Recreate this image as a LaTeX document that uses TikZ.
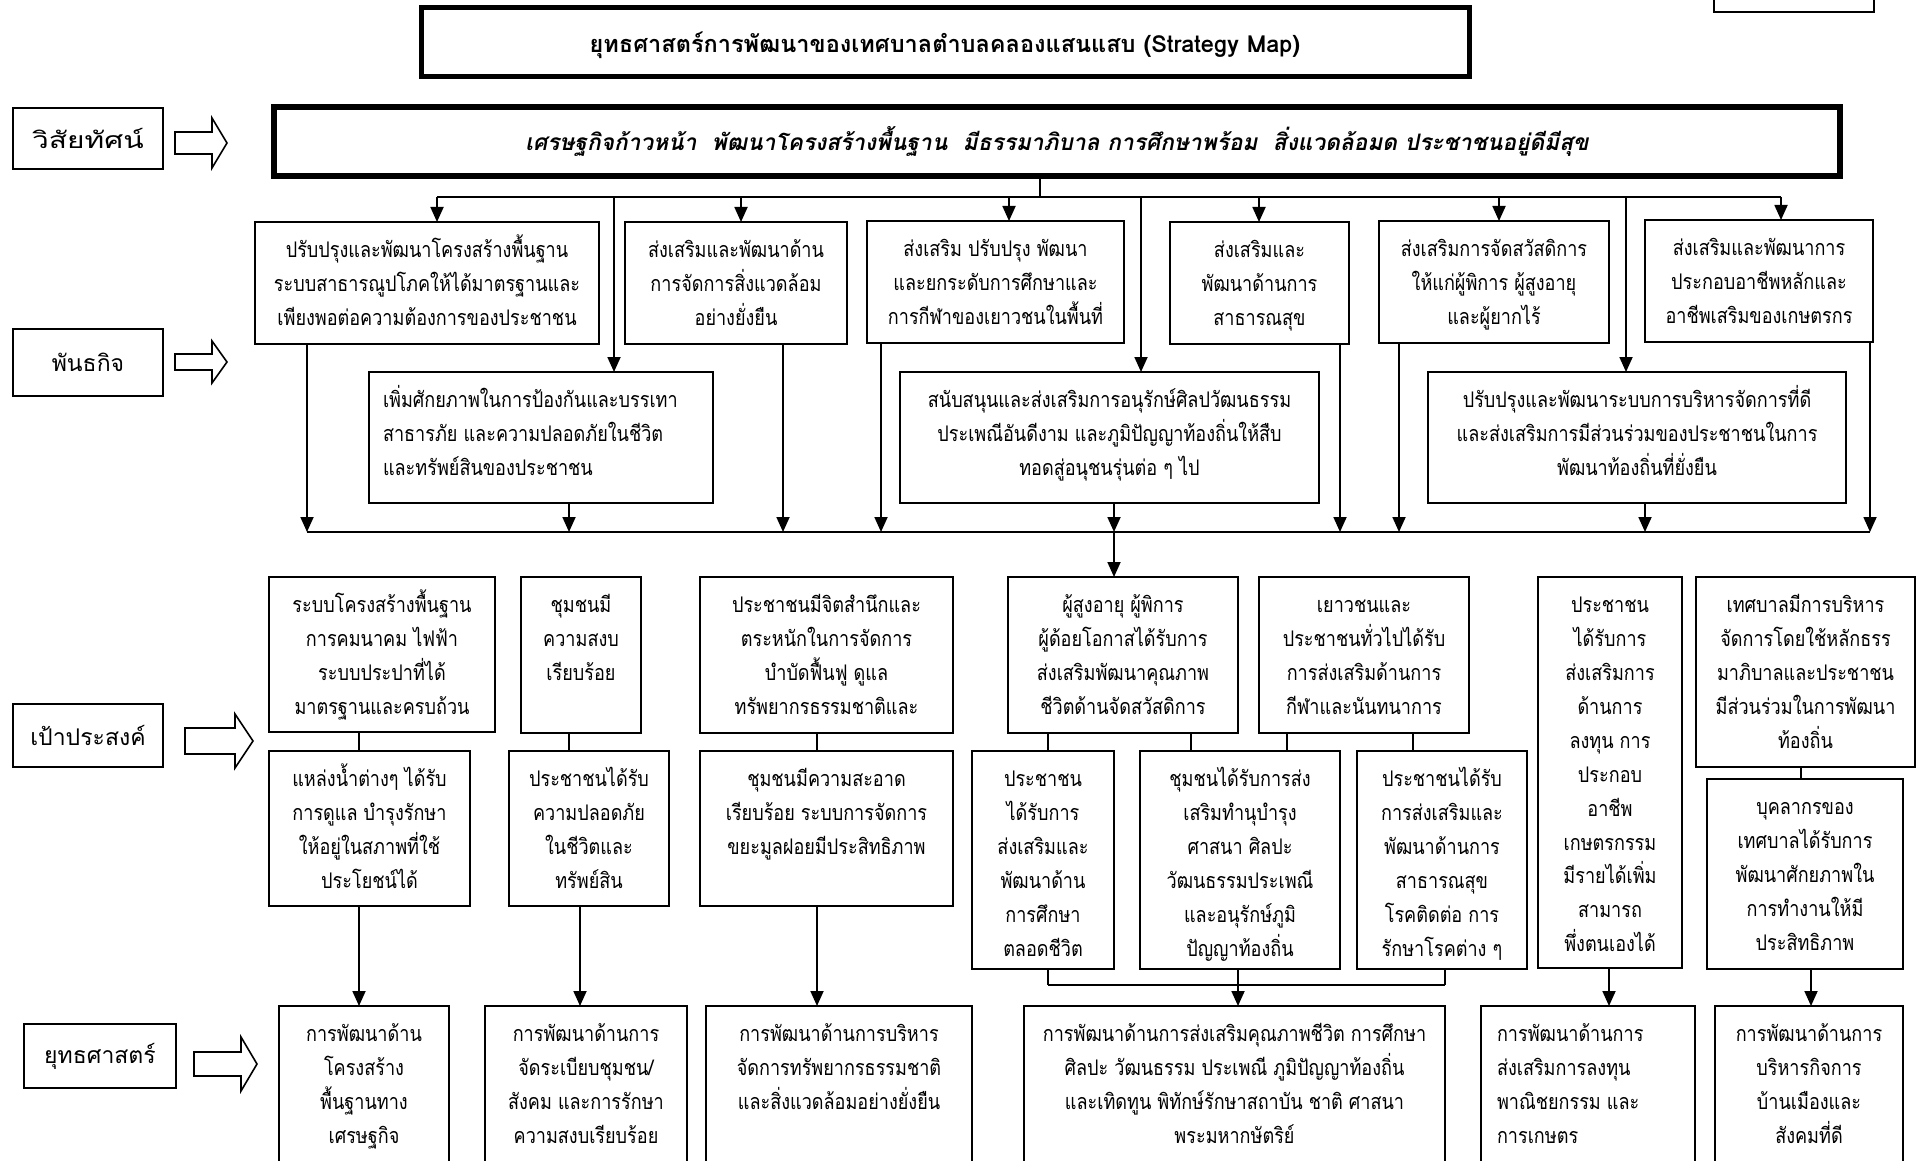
\documentclass[tikz,border=0pt]{standalone}
\usepackage{fontspec}
\usetikzlibrary{arrows.meta}
\newfontfamily\thf[Script=Thai,FakeStretch=0.84]{Loma}
\newfontfamily\thl[Script=Thai]{Loma}
\newfontfamily\thvis[Script=Thai,FakeSlant=0.2]{Loma}
\tikzset{
  boxst/.style={draw, line width=2pt, inner sep=0pt, outer sep=0pt},
  conn/.style={line width=1.8pt},
  arr/.style={line width=1.8pt, -{Triangle[length=15pt,width=13pt]}},
  harrow/.style={draw, line width=1.6pt, fill=white, line join=miter},
  lab/.style={boxst, anchor=north west, font=\thl\fontsize{23pt}{28pt}\selectfont},
}
\newcommand\tbox[7][\centering]{%
  \pgfmathsetmacro\bw{#5-#3}\pgfmathsetmacro\bh{#6-#4}%
  \node[boxst,anchor=north west] (#2) at (#3,#4)
   {\parbox[t][\bh pt][t]{\bw pt}{#1\thf\fontsize{21.5pt}{33.9pt}\selectfont\vspace*{12pt}\strut#7}};}
\newcommand\harr[6]{%
  \draw[harrow] (#1,{#4-#5}) -- (#2,{#4-#5}) -- (#2,{#4-#6}) -- (#3,#4) -- (#2,{#4+#6}) -- (#2,{#4+#5}) -- (#1,{#4+#5}) -- cycle;}
\begin{document}
\begin{tikzpicture}[x=1pt,y=-1pt]
\useasboundingbox (0,0) rectangle (1927,1161);
% title
\node[draw, line width=5pt, inner sep=0pt, outer sep=0pt, minimum width=1048pt, minimum height=69pt, anchor=north west,
  text height=21pt, text depth=0pt,
  font=\thl\bfseries\fontsize{23.5pt}{26pt}\selectfont] (title) at (421,8) {ยุทธศาสตร์การพัฒนาของเทศบาลตำบลคลองแสนแสบ (Strategy Map)};
\node[boxst, minimum width=160pt, minimum height=40pt, anchor=south west] (corner) at (1714,12) {};
% vision
\node[draw, line width=6pt, inner sep=0pt, outer sep=0pt, minimum width=1566pt, minimum height=69pt, anchor=north west,
  text height=19pt, text depth=0pt,
  font=\thvis\bfseries\fontsize{22.7pt}{26pt}\selectfont] (vis) at (274,107)
  {เศรษฐกิจก้าวหน้า\ \ พัฒนาโครงสร้างพื้นฐาน\ \ มีธรรมาภิบาล การศึกษาพร้อม\ \ สิ่งแวดล้อมด ประชาชนอยู่ดีมีสุข};
% left labels
\node[lab, minimum width=150pt, minimum height=61pt] (lv) at (13,108) {\scalebox{1.3}[1]{วิสัยทัศน์}};
\node[lab, minimum width=150pt, minimum height=67pt] (lm) at (13,329) {พันธกิจ};
\node[lab, minimum width=150pt, minimum height=63pt] (lg) at (13,704) {เป้าประสงค์};
\node[lab, minimum width=152pt, minimum height=64pt] (ls) at (24,1024) {ยุทธศาสตร์};
\harr{175}{212}{227}{143}{11}{25}
\harr{175}{212}{227}{362}{8}{21}
\harr{185}{235}{253}{741}{13}{27}
\harr{194}{241}{257}{1064}{12}{27}
% missions
\tbox{m1}{255}{222}{599}{344}{ปรับปรุงและพัฒนาโครงสร้างพื้นฐาน\\ระบบสาธารณูปโภคให้ได้มาตรฐานและ\\เพียงพอต่อความต้องการของประชาชน}
\tbox{m2}{625}{222}{847}{344}{ส่งเสริมและพัฒนาด้าน\\การจัดการสิ่งแวดล้อม\\อย่างยั่งยืน}
\tbox{m3}{867}{221}{1124}{343}{ส่งเสริม ปรับปรุง พัฒนา\\และยกระดับการศึกษาและ\\การกีฬาของเยาวชนในพื้นที่}
\tbox{m4}{1170}{222}{1349}{344}{ส่งเสริมและ\\พัฒนาด้านการ\\สาธารณสุข}
\tbox{m5}{1379}{221}{1609}{343}{ส่งเสริมการจัดสวัสดิการ\\ให้แก่ผู้พิการ ผู้สูงอายุ\\และผู้ยากไร้}
\tbox{m6}{1645}{220}{1873}{342}{ส่งเสริมและพัฒนาการ\\ประกอบอาชีพหลักและ\\อาชีพเสริมของเกษตรกร}
\tbox[\raggedright\leftskip=14pt]{m7}{369}{372}{713}{503}{เพิ่มศักยภาพในการป้องกันและบรรเทา\\สาธารภัย และความปลอดภัยในชีวิต\\และทรัพย์สินของประชาชน}
\tbox{m8}{900}{372}{1319}{503}{สนับสนุนและส่งเสริมการอนุรักษ์ศิลปวัฒนธรรม\\ประเพณีอันดีงาม และภูมิปัญญาท้องถิ่นให้สืบ\\ทอดสู่อนุชนรุ่นต่อ ๆ ไป}
\tbox{m9}{1428}{372}{1846}{503}{ปรับปรุงและพัฒนาระบบการบริหารจัดการที่ดี\\และส่งเสริมการมีส่วนร่วมของประชาชนในการ\\พัฒนาท้องถิ่นที่ยั่งยืน}
% goals
\tbox{g1}{269}{577}{495}{732}{ระบบโครงสร้างพื้นฐาน\\การคมนาคม ไฟฟ้า\\ระบบประปาที่ได้\\มาตรฐานและครบถ้วน}
\tbox{g2}{521}{577}{641}{733}{ชุมชนมี\\ความสงบ\\เรียบร้อย}
\tbox{g3}{700}{577}{953}{733}{ประชาชนมีจิตสำนึกและ\\ตระหนักในการจัดการ\\บำบัดฟื้นฟู ดูแล\\ทรัพยากรธรรมชาติและ}
\tbox{g1b}{269}{751}{470}{906}{แหล่งน้ำต่างๆ ได้รับ\\การดูแล บำรุงรักษา\\ให้อยู่ในสภาพที่ใช้\\ประโยชน์ได้}
\tbox{g2b}{509}{751}{669}{906}{ประชาชนได้รับ\\ความปลอดภัย\\ในชีวิตและ\\ทรัพย์สิน}
\tbox{g3b}{700}{751}{953}{906}{ชุมชนมีความสะอาด\\เรียบร้อย ระบบการจัดการ\\ขยะมูลฝอยมีประสิทธิภาพ}
\tbox{g4}{1008}{577}{1238}{733}{ผู้สูงอายุ ผู้พิการ\\ผู้ด้อยโอกาสได้รับการ\\ส่งเสริมพัฒนาคุณภาพ\\ชีวิตด้านจัดสวัสดิการ}
\tbox{g5}{1259}{577}{1469}{733}{เยาวชนและ\\ประชาชนทั่วไปได้รับ\\การส่งเสริมด้านการ\\กีฬาและนันทนาการ}
\tbox{g6}{1538}{577}{1682}{968}{ประชาชน\\ได้รับการ\\ส่งเสริมการ\\ด้านการ\\ลงทุน การ\\ประกอบ\\อาชีพ\\เกษตรกรรม\\มีรายได้เพิ่ม\\สามารถ\\พึ่งตนเองได้}
\tbox{g7}{1696}{577}{1915}{767}{เทศบาลมีการบริหาร\\จัดการโดยใช้หลักธรร\\มาภิบาลและประชาชน\\มีส่วนร่วมในการพัฒนา\\ท้องถิ่น}
\tbox{g4b}{972}{751}{1114}{969}{ประชาชน\\ได้รับการ\\ส่งเสริมและ\\พัฒนาด้าน\\การศึกษา\\ตลอดชีวิต}
\tbox{g4c}{1140}{751}{1340}{969}{ชุมชนได้รับการส่ง\\เสริมทำนุบำรุง\\ศาสนา ศิลปะ\\วัฒนธรรมประเพณี\\และอนุรักษ์ภูมิ\\ปัญญาท้องถิ่น}
\tbox{g5b}{1357}{751}{1527}{969}{ประชาชนได้รับ\\การส่งเสริมและ\\พัฒนาด้านการ\\สาธารณสุข\\โรคติดต่อ การ\\รักษาโรคต่าง ๆ}
\tbox{g7b}{1707}{779}{1903}{969}{บุคลากรของ\\เทศบาลได้รับการ\\พัฒนาศักยภาพใน\\การทำงานให้มี\\ประสิทธิภาพ}
% strategies
\tbox{s1}{279}{1006}{449}{1180}{การพัฒนาด้าน\\โครงสร้าง\\พื้นฐานทาง\\เศรษฐกิจ}
\tbox{s2}{485}{1006}{687}{1180}{การพัฒนาด้านการ\\จัดระเบียบชุมชน/\\สังคม และการรักษา\\ความสงบเรียบร้อย}
\tbox{s3}{706}{1006}{972}{1180}{การพัฒนาด้านการบริหาร\\จัดการทรัพยากรธรรมชาติ\\และสิ่งแวดล้อมอย่างยั่งยืน}
\tbox{s4}{1024}{1006}{1445}{1180}{การพัฒนาด้านการส่งเสริมคุณภาพชีวิต การศึกษา\\ศิลปะ วัฒนธรรม ประเพณี ภูมิปัญญาท้องถิ่น\\และเทิดทูน พิทักษ์รักษาสถาบัน ชาติ ศาสนา\\พระมหากษัตริย์}
\tbox[\raggedright\leftskip=16pt]{s5}{1481}{1006}{1695}{1180}{การพัฒนาด้านการ\\ส่งเสริมการลงทุน\\พาณิชยกรรม และ\\การเกษตร}
\tbox{s6}{1715}{1006}{1903}{1180}{การพัฒนาด้านการ\\บริหารกิจการ\\บ้านเมืองและ\\สังคมที่ดี}
% top bus
\coordinate (tb) at (1040,197);
\coordinate (t1) at (437,197); \coordinate (t2) at (614,197); \coordinate (t3) at (741,197);
\coordinate (t4) at (1009,197); \coordinate (t5) at (1141,197); \coordinate (t6) at (1259,197);
\coordinate (t7) at (1499,197); \coordinate (t8) at (1626,197); \coordinate (t9) at (1781,197);
\draw[conn] (vis.south -| tb) -- (tb);
\draw[conn] (t1) -- (t9);
\draw[arr] (t1) -- (t1 |- m1.north);
\draw[arr] (t2) -- (t2 |- m7.north);
\draw[arr] (t3) -- (t3 |- m2.north);
\draw[arr] (t4) -- (t4 |- m3.north);
\draw[arr] (t5) -- (t5 |- m8.north);
\draw[arr] (t6) -- (t6 |- m4.north);
\draw[arr] (t7) -- (t7 |- m5.north);
\draw[arr] (t8) -- (t8 |- m9.north);
\draw[arr] (t9) -- (t9 |- m6.north);
% collector bus
\coordinate (c1) at (307,532); \coordinate (c2) at (569,532); \coordinate (c3) at (783,532);
\coordinate (c4) at (881,532); \coordinate (c5) at (1114,532); \coordinate (c6) at (1340,532);
\coordinate (c7) at (1399,532); \coordinate (c8) at (1645,532); \coordinate (c9) at (1870,532);
\draw[conn] (c1) -- (c9);
\draw[arr] (m1.south -| c1) -- (c1);
\draw[arr] (m7.south -| c2) -- (c2);
\draw[arr] (m2.south -| c3) -- (c3);
\draw[arr] (m3.south -| c4) -- (c4);
\draw[arr] (m8.south -| c5) -- (c5);
\draw[arr] (m4.south -| c6) -- (c6);
\draw[arr] (m5.south -| c7) -- (c7);
\draw[arr] (m9.south -| c8) -- (c8);
\draw[arr] (m6.south -| c9) -- (c9);
\draw[arr] (c5) -- (c5 |- g4.north);
% goal links
\coordinate (k1) at (359,0); \coordinate (k2) at (569,0); \coordinate (k3) at (817,0);
\coordinate (k4) at (1048,0); \coordinate (k5) at (1191,0); \coordinate (k6) at (1287,0);
\coordinate (k7) at (1413,0); \coordinate (k8) at (1801,0); \coordinate (k9) at (580,0);
\coordinate (k10) at (1238,0); \coordinate (k11) at (1609,0); \coordinate (k12) at (1811,0);
\draw[conn] (g1.south -| k1) -- (g1b.north -| k1);
\draw[conn] (g2.south -| k2) -- (g2b.north -| k2);
\draw[conn] (g3.south -| k3) -- (g3b.north -| k3);
\draw[conn] (g4.south -| k4) -- (g4b.north -| k4);
\draw[conn] (g4.south -| k5) -- (g4c.north -| k5);
\draw[conn] (g5.south -| k6) -- (g4c.north -| k6);
\draw[conn] (g5.south -| k7) -- (g5b.north -| k7);
\draw[conn] (g7.south -| k8) -- (g7b.north -| k8);
% to strategies
\draw[arr] (g1b.south -| k1) -- (s1.north -| k1);
\draw[arr] (g2b.south -| k9) -- (s2.north -| k9);
\draw[arr] (g3b.south -| k3) -- (s3.north -| k3);
\coordinate (bL) at (1048,985); \coordinate (bR) at (1445,985);
\draw[conn] (bL) -- (bR);
\draw[conn] (g4b.south -| bL) -- (bL);
\draw[conn] (g5b.south -| bR) -- (bR);
\draw[arr] (g4c.south -| k10) -- (s4.north -| k10);
\draw[arr] (g6.south -| k11) -- (s5.north -| k11);
\draw[arr] (g7b.south -| k12) -- (s6.north -| k12);
\end{tikzpicture}
\end{document}
